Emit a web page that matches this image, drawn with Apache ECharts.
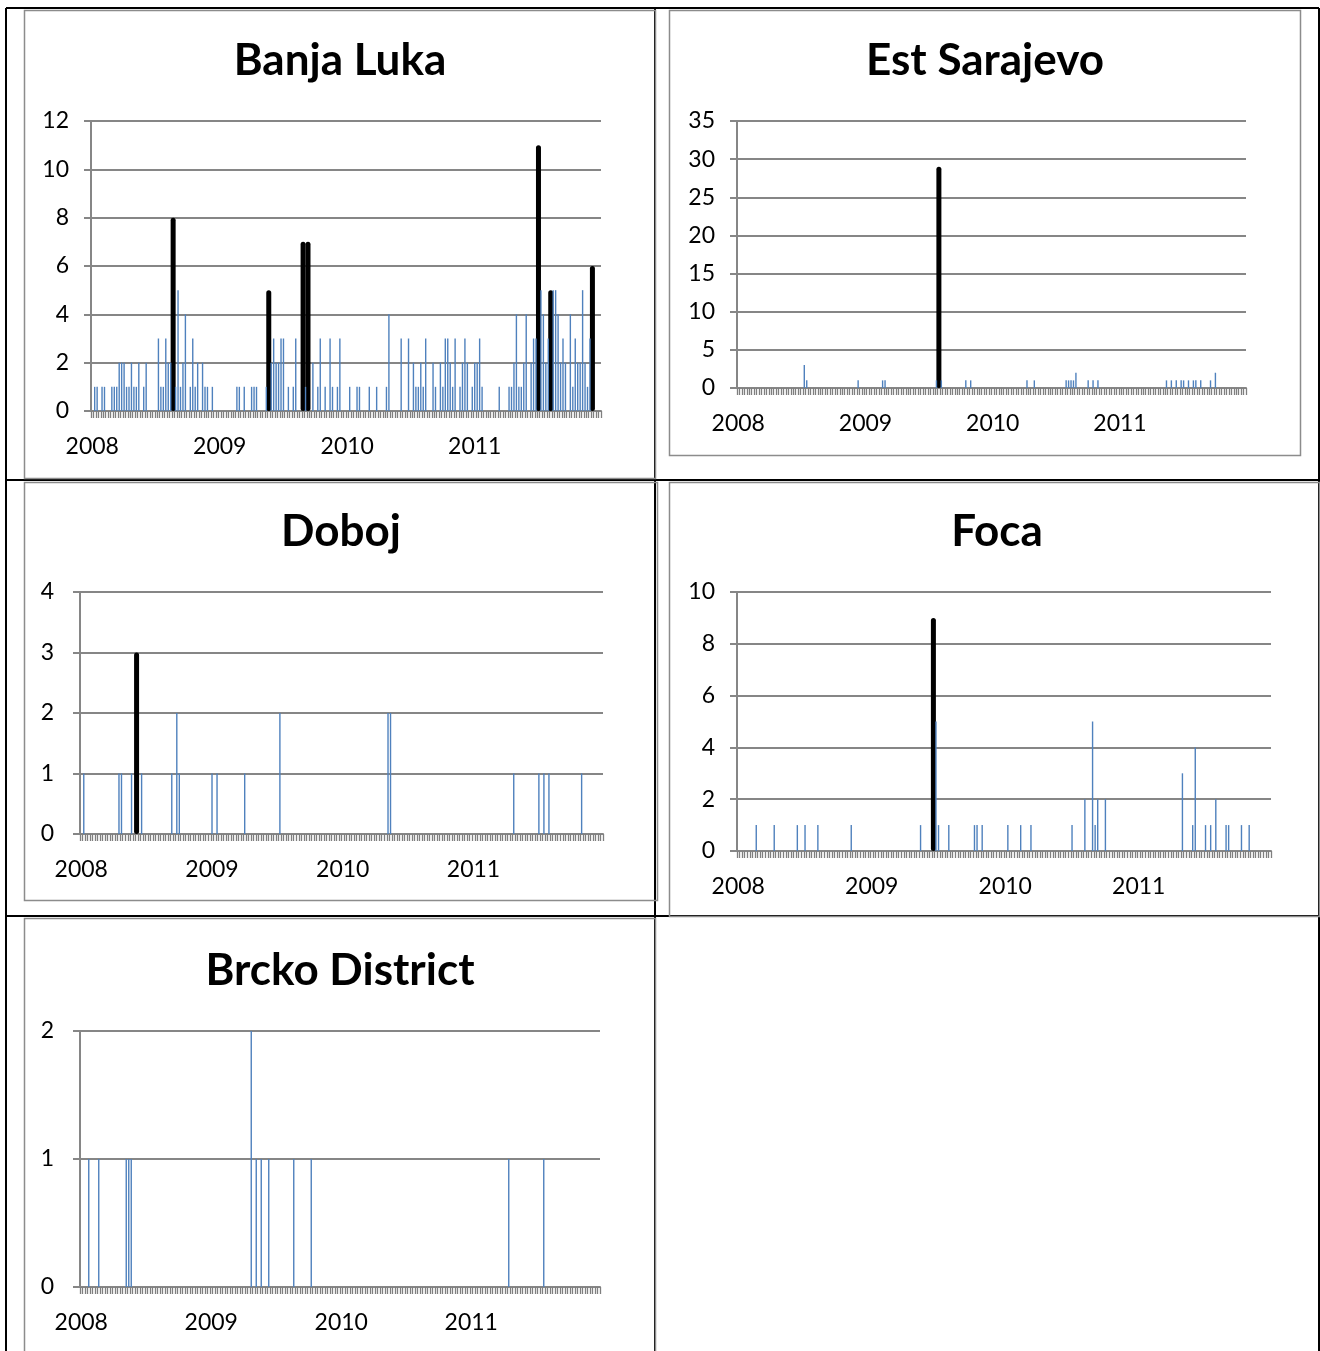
<!DOCTYPE html>
<html>
<head>
<meta charset="utf-8">
<script src="https://cdn.jsdelivr.net/npm/echarts@6/dist/echarts.min.js"></script>
<style>
  html, body { margin: 0; padding: 0; background: #fff; }
  #chart { width: 1320px; height: 1351px; }
</style>
</head>
<body>
<div id="chart"></div>
<script>
// Weekly reported cases per municipality, 2008–2011 (52 weeks per year).
const years = ['2008', '2009', '2010', '2011'];
const weeksPerYear = 52;

// [week index, cases] for weeks with reported cases; weeks not listed had none.
const banjaLukaWeekly = [
  [1,1],[2,1],[4,1],[5,1],[8,1],[9,1],[10,1],[11,2],[12,2],[13,2],[14,1],[15,1],[16,2],[17,1],[18,1],[19,2],
  [21,1],[22,2],[27,3],[28,1],[29,1],[30,3],[31,2],[32,2],[34,1],[35,5],[36,1],[37,2],[38,4],[40,1],[41,3],
  [42,1],[43,2],[45,2],[46,1],[47,1],[49,1],[59,1],[60,1],[62,1],[65,1],[66,1],[67,1],[71,1],[73,2],[74,3],
  [75,2],[76,2],[77,3],[78,3],[80,1],[82,1],[83,3],[87,1],[90,2],[92,1],[93,3],[95,1],[97,3],[98,1],[100,1],
  [101,3],[105,1],[108,1],[109,1],[113,1],[116,1],[120,1],[121,4],[126,3],[129,3],[131,2],[132,1],[133,1],
  [134,2],[135,1],[136,3],[139,2],[140,1],[142,2],[143,1],[144,3],[145,3],[146,2],[147,1],[148,3],[150,1],
  [151,2],[152,3],[153,2],[155,1],[156,2],[157,2],[158,3],[159,1],[166,1],[170,1],[171,1],[172,2],[173,4],
  [174,1],[175,1],[176,2],[177,4],[179,2],[180,3],[181,3],[183,5],[184,4],[185,2],[186,3],[188,5],[189,5],
  [190,4],[191,2],[192,3],[193,2],[195,4],[196,1],[197,3],[198,2],[199,2],[200,5],[201,2],[202,1],[203,3]
];
const banjaLukaPeaks = [[33,8],[72,5],[86,7],[88,7],[182,11],[187,5],[204,6]];

const estSarajevoWeekly = [
  [27,3],[28,1],[49,1],[59,1],[60,1],[81,1],[83,1],[93,1],[95,1],[118,1],[121,1],[134,1],[135,1],[136,1],
  [137,1],[138,2],[143,1],[145,1],[147,1],[175,1],[177,1],[179,1],[181,1],[182,1],[184,1],[186,1],[187,1],
  [189,1],[193,1],[195,2]
];
const estSarajevoPeaks = [[82,29]];

const dobojWeekly = [
  [1,1],[15,1],[16,1],[20,1],[24,1],[36,1],[38,2],[39,1],[52,1],[54,1],[65,1],[79,2],[122,2],[123,2],
  [172,1],[182,1],[184,1],[186,1],[199,1]
];
const dobojPeaks = [[22,3]];

const focaWeekly = [
  [7,1],[14,1],[23,1],[26,1],[31,1],[44,1],[71,1],[77,5],[78,1],[82,1],[92,1],[93,1],[95,1],[105,1],
  [110,1],[114,1],[130,1],[135,2],[138,5],[139,1],[140,2],[143,2],[173,3],[177,1],[178,4],[182,1],[184,1],
  [186,2],[190,1],[191,1],[196,1],[199,1]
];
const focaPeaks = [[76,9]];

const brckoWeekly = [
  [3,1],[7,1],[18,1],[19,1],[20,1],[68,2],[70,1],[72,1],[75,1],[85,1],[92,1],[171,1],[185,1]
];
const brckoPeaks = [];

// Y-axis scales: [max, interval]
const banjaLukaScale = [12, 2];
const estSarajevoScale = [35, 5];
const dobojScale = [4, 1];
const focaScale = [10, 2];
const brckoScale = [2, 1];

// Week categories: "2008-W01" ... "2011-W52"
const weeks = [];
years.forEach(function (y) {
  for (let w = 1; w <= weeksPerYear; w++) weeks.push(y + '-W' + (w < 10 ? '0' + w : w));
});

function toWeekly(pairs, empty) {
  const arr = weeks.map(function () { return empty; });
  pairs.forEach(function (p) { arr[p[0]] = p[1]; });
  return arr;
}

const panels = [
  { name: 'Banja Luka', weekly: banjaLukaWeekly, peaks: banjaLukaPeaks, scale: banjaLukaScale,
    grid: { left: 91, top: 121, width: 510, height: 290 }, title: [340, 61], yMargin: 22,
    frame: [24, 10, 631, 468] },
  { name: 'Est Sarajevo', weekly: estSarajevoWeekly, peaks: estSarajevoPeaks, scale: estSarajevoScale,
    grid: { left: 737, top: 121, width: 509, height: 267 }, title: [985, 61], yMargin: 22,
    frame: [669, 10, 631, 445] },
  { name: 'Doboj', weekly: dobojWeekly, peaks: dobojPeaks, scale: dobojScale,
    grid: { left: 80, top: 592, width: 523, height: 242 }, title: [341, 532], yMargin: 26,
    frame: [24, 482, 633, 418] },
  { name: 'Foca', weekly: focaWeekly, peaks: focaPeaks, scale: focaScale,
    grid: { left: 737, top: 592, width: 534, height: 259 }, title: [997, 532], yMargin: 22,
    frame: [669, 482, 650, 434] },
  { name: 'Brcko District', weekly: brckoWeekly, peaks: brckoPeaks, scale: brckoScale,
    grid: { left: 80, top: 1031, width: 520, height: 256 }, title: [340, 971], yMargin: 26,
    frame: [24, 918, 631, 440] }
];

const AXIS_GREY = '#868686';
const TICK_GREY = '#7f7f7f';
const BAR_BLUE = '#4f81bd';
const FONT = 'Lato, "Open Sans", sans-serif';

const grid = [], xAxis = [], yAxis = [], series = [], title = [];
const graphic = [];

// Table rules around the chart cells
const tableLines = [
  [6, 8, 1319, 8], [6, 480, 1319, 480], [6, 916, 1319, 916],
  [6, 8, 6, 1351], [1319, 8, 1319, 1351], [655, 8, 655, 1351]
];
tableLines.forEach(function (l) {
  graphic.push({ type: 'line', z: -10, shape: { x1: l[0], y1: l[1], x2: l[2], y2: l[3] },
    style: { stroke: '#000', lineWidth: 2 } });
});

panels.forEach(function (p, i) {
  // chart frame
  graphic.push({ type: 'rect', z: -5,
    shape: { x: p.frame[0] + 0.5, y: p.frame[1] + 0.5, width: p.frame[2], height: p.frame[3] },
    style: { fill: 'none', stroke: '#8c8c8c', lineWidth: 1.5 } });

  title.push({ text: p.name, left: p.title[0], top: p.title[1], padding: 0,
    textAlign: 'center', textVerticalAlign: 'middle',
    textStyle: { fontFamily: FONT, fontWeight: 'bold', fontSize: 44, color: '#000' } });

  grid.push(Object.assign({ containLabel: false }, p.grid));

  xAxis.push({
    type: 'category', gridIndex: i, data: weeks, boundaryGap: true,
    axisLine: { show: true, lineStyle: { color: AXIS_GREY, width: 2 } },
    axisTick: { show: true, interval: 0, length: 7, lineStyle: { color: TICK_GREY, width: 1.3 } },
    axisLabel: {
      interval: function (idx) { return idx % weeksPerYear === 0; },
      formatter: function (v) { return v.slice(0, 4); },
      color: '#000', fontFamily: FONT, fontSize: 23, margin: 24
    },
    splitLine: { show: false }
  });
  xAxis.push({ type: 'category', gridIndex: i, data: weeks, show: false });

  yAxis.push({
    type: 'value', gridIndex: i, min: 0, max: p.scale[0], interval: p.scale[1],
    axisLine: { show: true, lineStyle: { color: AXIS_GREY, width: 2 } },
    axisTick: { show: true, length: 7, lineStyle: { color: AXIS_GREY, width: 2 } },
    axisLabel: { color: '#000', fontFamily: FONT, fontSize: 23, margin: p.yMargin },
    splitLine: { show: true, lineStyle: { color: AXIS_GREY, width: 2 } }
  });

  series.push({
    name: p.name + ' peak', type: 'bar', xAxisIndex: 2 * i + 1, yAxisIndex: i,
    data: toWeekly(p.peaks, '-'), barWidth: 5, z: 3,
    itemStyle: { color: '#000', borderRadius: 2.5 }
  });
  series.push({
    name: p.name, type: 'bar', xAxisIndex: 2 * i, yAxisIndex: i,
    data: toWeekly(p.weekly, 0), barWidth: 1.4, z: 4,
    itemStyle: { color: BAR_BLUE }
  });
});

const chart = echarts.init(document.getElementById('chart'), null, { renderer: 'canvas' });
chart.setOption({
  animation: false,
  backgroundColor: '#fff',
  title: title,
  grid: grid,
  xAxis: xAxis,
  yAxis: yAxis,
  series: series,
  graphic: graphic
});
</script>
</body>
</html>
